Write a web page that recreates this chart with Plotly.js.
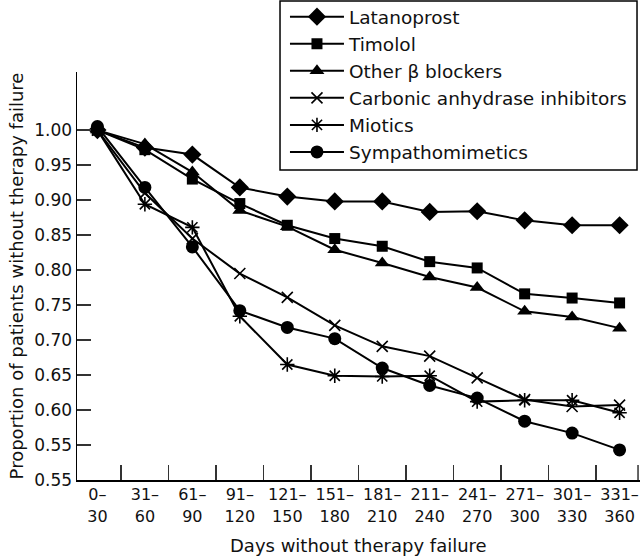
<!DOCTYPE html>
<html>
<head>
<meta charset="utf-8">
<script src="https://cdn.plot.ly/plotly-3.0.1.min.js"></script>
<style>
html,body{margin:0;padding:0;background:#fff;}
#chart{width:640px;height:557px;}
</style>
</head>
<body>
<div id="chart"></div>
<script>
const categories = ["0–30","31–60","61–90","91–120","121–150","151–180","181–210","211–240","241–270","271–300","301–330","331–360"];
const tickRow1 = ["0–","31–","61–","91–","121–","151–","181–","211–","241–","271–","301–","331–"];
const tickRow2 = ["30","60","90","120","150","180","210","240","270","300","330","360"];
const latanoprost = [1.000,0.975,0.965,0.918,0.905,0.898,0.898,0.883,0.884,0.871,0.864,0.864];
const timolol     = [1.000,0.972,0.930,0.895,0.864,0.845,0.834,0.812,0.803,0.766,0.760,0.753];
const otherBeta   = [1.000,0.980,0.940,0.885,0.862,0.829,0.810,0.790,0.775,0.741,0.733,0.717];
const carbonic    = [1.000,0.910,0.845,0.795,0.761,0.721,0.691,0.677,0.646,0.615,0.605,0.607];
const miotics     = [1.000,0.894,0.861,0.734,0.665,0.649,0.648,0.649,0.612,0.614,0.614,0.596];
const sympatho    = [1.005,0.918,0.833,0.742,0.718,0.702,0.660,0.635,0.617,0.584,0.567,0.543];
const yTickVals = [0.50,0.55,0.60,0.65,0.70,0.75,0.80,0.85,0.90,0.95,1.00];
const yTickText = ["0.55","0.55","0.60","0.65","0.70","0.75","0.80","0.85","0.90","0.95","1.00"];

const FONT = "DejaVu Sans, sans-serif";
const INK = "#111";
function series(name, y, symbol, size, open) {
  const marker = {symbol: symbol, size: size, color: "#000"};
  if (open) marker.line = {color: "#000", width: 1.6};
  return {x: categories, y: y, name: name, type: "scatter", mode: "lines+markers",
          line: {color: "#000", width: 2}, marker: marker};
}
const data = [
  series("Latanoprost", latanoprost, "diamond", 14),
  series("Timolol", timolol, "square", 11),
  series("Other β blockers", otherBeta, "triangle-up", 13),
  series("Carbonic anhydrase inhibitors", carbonic, "x-thin-open", 11, true),
  series("Miotics", miotics, "asterisk-open", 12, true),
  series("Sympathomimetics", sympatho, "circle", 13),
  // second row of x tick labels, carried by an overlaying axis
  {x: categories, y: latanoprost, xaxis: "x2", type: "scatter", mode: "none", showlegend: false, hoverinfo: "skip"}
];
const xRange = [-0.43, 11.43];
const layout = {
  width: 640, height: 557,
  margin: {l: 77, r: 0, t: 72, b: 77, autoexpand: false},
  paper_bgcolor: "#fff", plot_bgcolor: "#fff",
  font: {family: FONT, size: 16, color: INK},
  showlegend: true,
  legend: {x: 0.3694, y: 1.181, xanchor: "left", yanchor: "top",
           borderwidth: 0, bgcolor: "rgba(255,255,255,0)",
           font: {family: FONT, size: 18.5, color: INK},
           itemwidth: 54, tracegroupgap: 0},
  xaxis: {type: "category", range: xRange,
          tickmode: "array", tickvals: categories, ticktext: tickRow1, tickangle: 0,
          ticks: "inside", tickson: "boundaries", ticklen: 15, tickwidth: 1.5, tickcolor: "#333",
          showline: true, linecolor: "#000", linewidth: 1.5,
          showgrid: false, zeroline: false, ticklabelstandoff: -1,
          tickfont: {family: FONT, size: 16, color: INK}},
  xaxis2: {type: "category", range: xRange, overlaying: "x", anchor: "y", side: "bottom",
          tickmode: "array", tickvals: categories, ticktext: tickRow2, tickangle: 0,
          ticks: "", showline: false, showgrid: false, zeroline: false, ticklabelstandoff: 25,
          tickfont: {family: FONT, size: 16, color: INK}},
  yaxis: {range: [0.50, 1.083], tickmode: "array", tickvals: yTickVals, ticktext: yTickText,
          ticks: "inside", ticklen: 14, tickwidth: 1.5, tickcolor: "#333",
          showline: true, linecolor: "#000", linewidth: 1.5,
          showgrid: false, zeroline: false,
          tickfont: {family: FONT, size: 17, color: INK},
          title: {text: "Proportion of patients without therapy failure", font: {family: FONT, size: 18, color: INK}, standoff: 6}},
  shapes: [
    {type: "rect", xref: "paper", yref: "paper", x0: 0.3606, x1: 0.9947, y0: 0.7598, y1: 1.174,
     line: {color: "#000", width: 1.5}, fillcolor: "rgba(0,0,0,0)"},
    {type: "line", xref: "paper", yref: "paper", x0: 0.9965, x1: 0.9965, y0: 0, y1: 0.0368,
     line: {color: "#333", width: 1.5}}
  ],
  annotations: [{text: "Days without therapy failure", xref: "paper", yref: "paper",
                 x: 0.5, y: 0, yshift: -65, xanchor: "center", yanchor: "middle", showarrow: false,
                 font: {family: FONT, size: 18, color: INK}}]
};
Plotly.newPlot("chart", data, layout, {displayModeBar: false, staticPlot: true});
</script>
</body>
</html>
